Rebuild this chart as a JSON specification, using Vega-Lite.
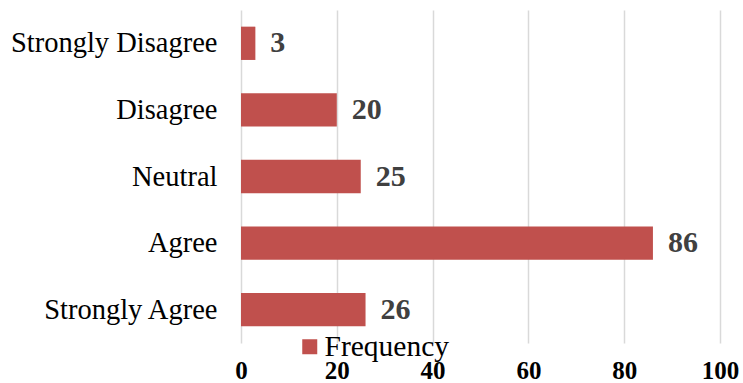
{
  "$schema": "https://vega.github.io/schema/vega-lite/v6.json",
  "width": 479,
  "height": 333,
  "autosize": {"type": "none"},
  "padding": {"left": 241, "top": 10, "right": 23, "bottom": 40},
  "background": "white",
  "data": {"values": [
    {"category": "Strongly Disagree", "value": 3, "series": "Frequency"},
    {"category": "Disagree", "value": 20, "series": "Frequency"},
    {"category": "Neutral", "value": 25, "series": "Frequency"},
    {"category": "Agree", "value": 86, "series": "Frequency"},
    {"category": "Strongly Agree", "value": 26, "series": "Frequency"}
  ]},
  "config": {
    "view": {"stroke": null},
    "font": "Liberation Serif"
  },
  "encoding": {
    "y": {
      "field": "category", "type": "nominal",
      "sort": ["Strongly Disagree", "Disagree", "Neutral", "Agree", "Strongly Agree"],
      "scale": {"paddingInner": 0.5, "paddingOuter": 0.25},
      "axis": {"title": null, "domain": false, "ticks": false, "labelPadding": 24, "labelLimit": 400,
               "labelFont": "Liberation Serif", "labelFontSize": 28.5, "labelColor": "#000000", "labelFontWeight": "normal"}
    },
    "x": {
      "field": "value", "type": "quantitative",
      "scale": {"domain": [0, 100], "nice": false},
      "axis": {"title": null, "values": [0, 20, 40, 60, 80, 100], "domain": false, "ticks": false,
               "grid": true, "gridColor": "#d9d9d9", "gridWidth": 1.5, "labelPadding": 15,
               "labelFont": "Liberation Serif", "labelFontSize": 25, "labelFontWeight": "bold",
               "labelColor": "#000000", "labelFlush": false}
    }
  },
  "layer": [
    {
      "mark": {"type": "bar", "color": "#C0504D"},
      "encoding": {
        "color": {
          "field": "series", "type": "nominal",
          "scale": {"range": ["#C0504D"]},
          "legend": {"title": null, "orient": "none", "legendX": 54, "legendY": 322,
                     "symbolType": "square", "symbolSize": 225, "symbolStrokeWidth": 0,
                     "labelFont": "Liberation Serif", "labelFontSize": 29.5, "labelColor": "#000000",
                     "labelOffset": 0, "padding": 0}
        }
      }
    },
    {
      "mark": {"type": "text", "align": "left", "baseline": "middle", "dx": 15,
               "font": "Liberation Serif", "fontSize": 30, "fontWeight": "bold", "color": "#404040"},
      "encoding": {"text": {"field": "value", "type": "quantitative"}}
    }
  ]
}
